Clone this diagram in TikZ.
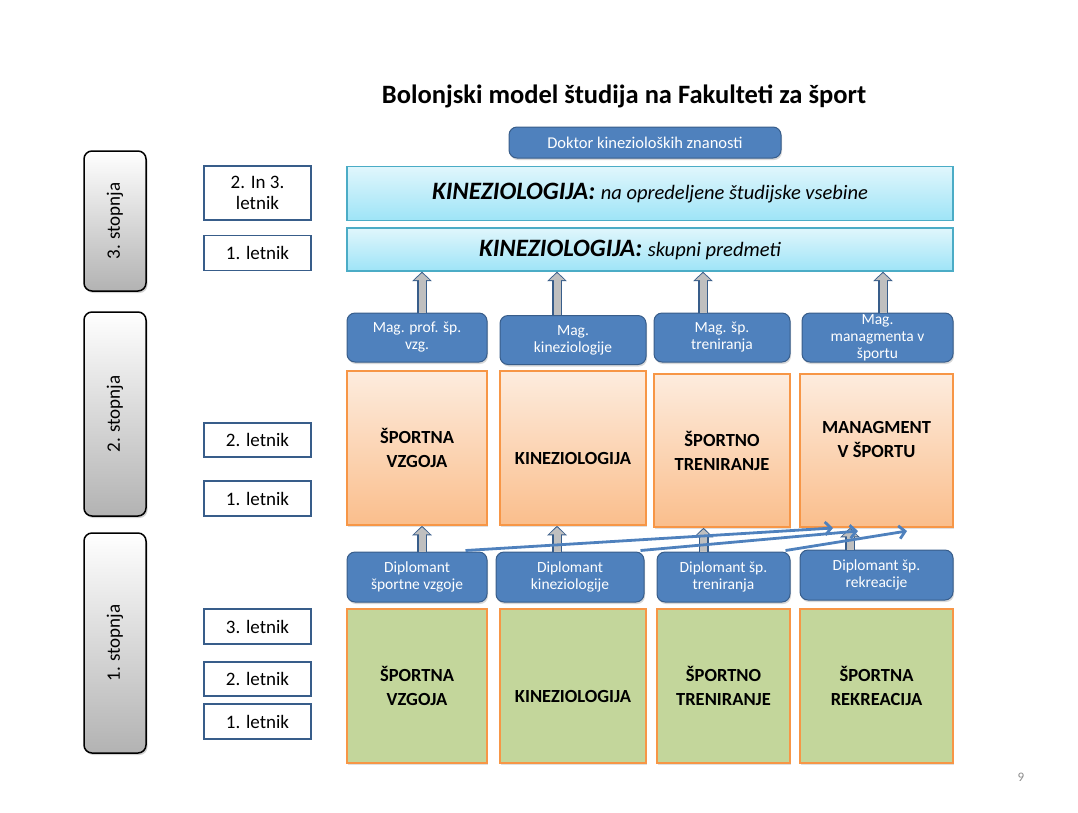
\documentclass[tikz,border=0pt]{standalone}
\usepackage{fontspec}
\setmainfont{Carlito}
\usepackage{tikz}
\usetikzlibrary{arrows.meta}
\usetikzlibrary{shadows}

\definecolor{boxblue}{RGB}{79,129,189}
\definecolor{boxblueline}{RGB}{56,93,138}
\definecolor{orangeline}{RGB}{247,150,70}
\definecolor{orangetop}{RGB}{253,236,222}
\definecolor{orangebot}{RGB}{250,190,140}
\definecolor{greenfill}{RGB}{195,214,155}
\definecolor{cyantop}{RGB}{224,246,252}
\definecolor{cyanbot}{RGB}{158,228,247}
\definecolor{cyanline}{RGB}{75,172,198}
\definecolor{arrowgray}{RGB}{191,191,191}

\begin{document}
\begin{tikzpicture}[x=1pt,y=-1pt,
  stopnja/.style={draw=black, line width=1.5pt, rounded corners=8pt, top color=white, bottom color=black!30,
    minimum width=62pt, inner sep=0pt, font=\fontsize{19}{21}\selectfont,
    drop shadow={opacity=0.35, shadow xshift=1.5pt, shadow yshift=-2pt}},
  letnik/.style={draw=boxblueline, line width=1.5pt, fill=white, minimum width=107pt, inner sep=0pt,
    align=center, font=\fontsize{19}{21}\selectfont},
  dipl/.style={draw=boxblueline, line width=1pt, fill=boxblue, rounded corners=8pt, text=white, align=center,
    inner sep=0pt, minimum height=49pt, font=\fontsize{15.5}{17}\selectfont,
    drop shadow={opacity=0.3, shadow xshift=1pt, shadow yshift=-2pt}},
  smer/.style={draw=orangeline, line width=1.5pt, top color=orangetop, bottom color=orangebot, inner sep=0pt,
    minimum height=154pt, align=center, font=\bfseries\fontsize{18.5}{24}\selectfont,
    drop shadow={opacity=0.25, shadow xshift=1pt, shadow yshift=-2pt}},
  osnova/.style={draw=orangeline, line width=1.5pt, fill=greenfill, inner sep=0pt,
    minimum height=154pt, align=center, font=\bfseries\fontsize{18.5}{24}\selectfont,
    drop shadow={opacity=0.25, shadow xshift=1pt, shadow yshift=-2pt}},
  kin/.style={draw=cyanline, line width=1.2pt, top color=cyantop, bottom color=cyanbot, minimum width=606pt, inner sep=0pt},
  garrow/.style={line width=7pt, draw=arrowgray, -{Triangle[length=7pt,width=15pt,sep=1.5pt]},
    preaction={draw=boxblueline, line width=10pt, -{Triangle[length=9.5pt,width=19pt]}}},
  barrow/.style={line width=2.8pt, draw=boxblue, -{Straight Barb[length=6pt,width=13pt]}}]

  \useasboundingbox (0,0) rectangle (1078,812);

  \node[font=\bfseries\fontsize{26.5}{30}\selectfont] (naslov) at (624,96) {Bolonjski model študija na Fakulteti za šport};

  \node[stopnja, minimum height=140pt] (st3) at (115,221) {\rotatebox{90}{3. stopnja}};
  \node[stopnja, minimum height=204pt] (st2) at (115,414) {\rotatebox{90}{2. stopnja}};
  \node[stopnja, minimum height=220pt] (st1) at (115,643) {\rotatebox{90}{1. stopnja}};

  \node[letnik, minimum height=54pt] (l3b) at (257.5,193) {2. In 3.\\letnik};
  \node[letnik, minimum height=35pt] (l3a) at (257.5,253) {1. letnik};
  \node[letnik, minimum height=34pt] (l2b) at (257.5,440) {2. letnik};
  \node[letnik, minimum height=35pt] (l2a) at (257.5,498.5) {1. letnik};
  \node[letnik, minimum height=35pt] (l1c) at (257.5,626.5) {3. letnik};
  \node[letnik, minimum height=34pt] (l1b) at (257.5,679) {2. letnik};
  \node[letnik, minimum height=35pt] (l1a) at (257.5,721.5) {1. letnik};

  \node[dipl, minimum width=272pt, minimum height=31pt, font=\fontsize{16.5}{18}\selectfont] (dr) at (645,142.5) {Doktor kinezioloških znanosti};
  \node[kin, minimum height=54pt] (k1) at (650,193.5)
    {\bfseries\itshape\fontsize{25}{28}\selectfont KINEZIOLOGIJA: \mdseries\fontsize{20.5}{22}\selectfont na opredeljene študijske vsebine};
  \node[kin, minimum height=43pt] (k2) at (650,249.5)
    {\bfseries\itshape\fontsize{25}{28}\selectfont KINEZIOLOGIJA: \mdseries\fontsize{20.5}{22}\selectfont skupni predmeti\hspace*{40pt}};

  \node[dipl, minimum width=140pt] (m1) at (417,337.5) {Mag. prof. šp.\\vzg.};
  \node[dipl, minimum width=146pt] (m2) at (573,340) {Mag.\\kineziologije};
  \node[dipl, minimum width=136pt] (m3) at (722,337.5) {Mag. šp.\\treniranja};
  \node[dipl, minimum width=151pt] (m4) at (877.5,337.5) {Mag.\\managmenta v\\športu};

  \node[smer, minimum width=140pt] (o1) at (417,448) {ŠPORTNA\\VZGOJA};
  \node[smer, minimum width=146pt, text height=33pt] (o2) at (573,448) {KINEZIOLOGIJA};
  \node[smer, minimum width=136pt, minimum height=153pt] (o3) at (722,450.5) {ŠPORTNO\\TRENIRANJE};
  \node[smer, minimum width=153pt, minimum height=153pt, text depth=23pt] (o4) at (876.5,450.5) {MANAGMENT\\V ŠPORTU};

  \node[dipl, minimum width=140pt, minimum height=50pt] (d1) at (417,577) {Diplomant\\športne vzgoje};
  \node[dipl, minimum width=148pt, minimum height=50pt] (d2) at (570,577) {Diplomant\\kineziologije};
  \node[dipl, minimum width=133pt, minimum height=50pt] (d3) at (723.5,577) {Diplomant šp.\\treniranja};
  \node[dipl, minimum width=153pt, minimum height=50pt] (d4) at (876.5,575) {Diplomant šp.\\rekreacije};

  \node[osnova, minimum width=140pt] (g1) at (417,686) {ŠPORTNA\\VZGOJA};
  \node[osnova, minimum width=146pt, text height=33pt] (g2) at (573,686) {KINEZIOLOGIJA};
  \node[osnova, minimum width=133pt] (g3) at (723.5,686) {ŠPORTNO\\TRENIRANJE};
  \node[osnova, minimum width=153pt] (g4) at (876.5,686) {ŠPORTNA\\REKREACIJA};

  \draw[garrow] ([xshift=5pt]m1.north) -- ([xshift=5pt]m1.north |- k2.south);
  \draw[garrow] ([xshift=-16pt]m2.north) -- ([xshift=-16pt]m2.north |- k2.south);
  \draw[garrow] ([xshift=-19pt]m3.north) -- ([xshift=-19pt]m3.north |- k2.south);
  \draw[garrow] ([xshift=5.5pt]m4.north) -- ([xshift=5.5pt]m4.north |- k2.south);

  \draw[garrow] ([xshift=5pt]d1.north) -- ([xshift=5pt]d1.north |- o1.south);
  \draw[garrow] ([xshift=-13pt]d2.north) -- ([xshift=-13pt]d2.north |- o2.south);
  \draw[garrow] ([xshift=-20pt]d3.north) -- ([xshift=-20pt]d3.north |- o3.south);
  \draw[garrow] ([xshift=-26.5pt]d4.north) -- ([xshift=-26.5pt]d4.north |- o4.south);

  \coordinate (t1) at (833,528);
  \coordinate (t2) at (858,531);
  \coordinate (t3) at (907,531);
  \draw[barrow] ([xshift=-22pt,yshift=1pt]d1.north east) -- (t1);
  \draw[barrow] ([xshift=-4pt,yshift=1pt]d2.north east) -- (t2);
  \draw[barrow] ([xshift=-5pt,yshift=1pt]d3.north east) -- (t3);

  \node[text=black!45, font=\fontsize{13}{15}\selectfont] (stran) at (1021,777) {9};
\end{tikzpicture}
\end{document}
